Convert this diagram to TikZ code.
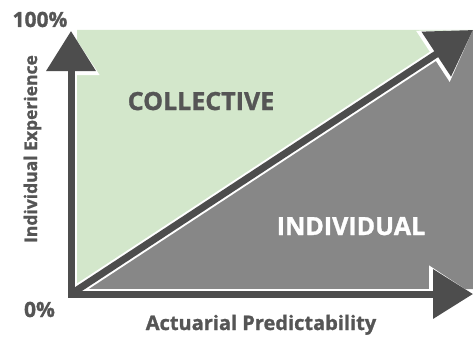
\documentclass[tikz,border=0pt]{standalone}
\usepackage{fontspec}
\setmainfont{Open Sans}[BoldFeatures={FakeBold=1.2}]
\usepackage{tikz}
\usetikzlibrary{arrows.meta, positioning, calc}
\definecolor{darkgrey}{HTML}{4D4D4D}
\definecolor{textgrey}{HTML}{555555}
\definecolor{midgrey}{HTML}{878787}
\definecolor{lightgreen}{HTML}{D3E7CB}
\tikzstyle{axisline} = [line width=7pt, draw=darkgrey, line join=miter, {Triangle[width=48pt,length=40pt]}-{Triangle[width=48pt,length=40pt]}]
\tikzstyle{trendline} = [line width=7pt, draw=darkgrey, -{Triangle[width=52pt,length=44pt]}]
\tikzstyle{halo} = [line width=11pt, draw=white, line join=miter]
\tikzstyle{axislabel} = [font=\bfseries\fontsize{21}{21}\selectfont, text=textgrey, inner sep=0pt, anchor=base]
\tikzstyle{zone} = [font=\bfseries\fontsize{25}{25}\selectfont, inner sep=0pt, anchor=base]

\begin{document}
\begin{tikzpicture}[x=1pt, y=-1pt]
		\useasboundingbox (0,0) rectangle (473,337);
		
		\coordinate (o) at (71,294);
		\coordinate (ytop) at (71,31);
		\coordinate (xend) at (473,294);
		\coordinate (dtop) at (473,30);
		
		% areas
		\fill[lightgreen] (77,30) -- (473,30) -- (77,292) -- cycle;
		\fill[midgrey] (80,289) -- (473,289) -- (473,30) -- cycle;
		
		% arrows
		\draw [halo, {Triangle[width=54pt,length=44pt]}-{Triangle[width=54pt,length=44pt]}] (ytop) -- (o) -- (xend);
		\draw [halo, -{Triangle[width=58pt,length=48pt]}] (o) -- (dtop);
		\draw [axisline] (ytop) -- (o) -- (xend);
		\draw [trendline] (o) -- (dtop);
		
		% texts
		\node (top) [axislabel] at (40,27) {100\%};
		\node (zero) [axislabel] at (39.5,317) {0\%};
		\node (ylab) [axislabel, font=\bfseries\fontsize{17.5}{17.5}\selectfont, rotate=90] at (37,149) {Individual Experience};
		\node (xlab) [axislabel, font=\bfseries\fontsize{20}{20}\selectfont] at (261,330) {Actuarial Predictability};
		\node (coll) [zone, text=textgrey] at (201,110) {COLLECTIVE};
		\node (indiv) [zone, text=white] at (351,235) {INDIVIDUAL};
		
		\end{tikzpicture}
\end{document}
